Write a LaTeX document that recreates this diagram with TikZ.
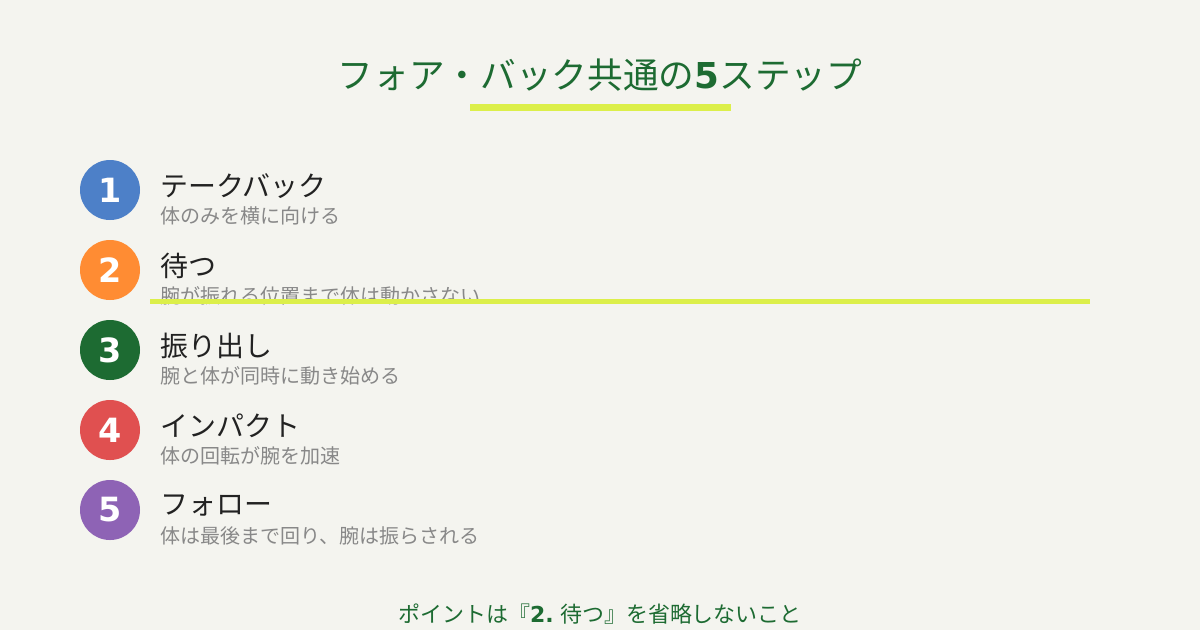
\documentclass[tikz,border=0pt]{standalone}
\usepackage{fontspec}
\setmainfont{Noto Sans CJK JP}
\newfontfamily\numfont{DejaVu Sans}
\definecolor{bgcol}{HTML}{F4F4EF}
\definecolor{titlegreen}{HTML}{1D6B32}
\definecolor{limebar}{HTML}{DCEF4A}
\definecolor{stepblue}{HTML}{4D80C8}
\definecolor{steporange}{HTML}{FF8C33}
\definecolor{stepgreen}{HTML}{1D6B32}
\definecolor{stepred}{HTML}{E05050}
\definecolor{steppurple}{HTML}{8E63B5}
\definecolor{darktext}{HTML}{222222}
\definecolor{graytext}{HTML}{888888}
\tikzset{
  num/.style={circle, minimum size=60*0.02cm, inner sep=0pt, text=white, font=\numfont\bfseries\fontsize{19pt}{19pt}\selectfont},
  steptitle/.style={anchor=west, inner sep=0pt, text=darktext, font=\fontsize{15.9pt}{16pt}\selectfont},
  stepsub/.style={anchor=west, inner sep=0pt, text=graytext, font=\fontsize{11.4pt}{12pt}\selectfont}
}
\begin{document}
\begin{tikzpicture}[x=0.02cm, y=-0.02cm]
	\useasboundingbox (0,0) rectangle (1200,630);
	\fill[bgcol] (0,0) rectangle (1200,630);

	% title and underline
	\node[inner sep=0pt, text=titlegreen, font=\fontsize{20.3pt}{21pt}\selectfont] (title) at (600,75) {フォア・バック共通の{\numfont\bfseries 5}ステップ};
	\fill[limebar] (470,104) rectangle (731,111);

	% steps
	\node[num, fill=stepblue] (C1) at (110,190) {\raisebox{-2pt}{1}};
	\node[steptitle] (T1) at (160,186) {テークバック};
	\node[stepsub] (S1) at (160,216) {体のみを横に向ける};

	\node[num, fill=steporange] (C2) at (110,270) {\raisebox{-2pt}{2}};
	\node[steptitle] (T2) at (160,266) {待つ};
	\node[stepsub] (S2) at (160,296) {腕が振れる位置まで体は動かさない};
	\fill[limebar] (150,299) rectangle (1090,304);

	\node[num, fill=stepgreen] (C3) at (110,350) {\raisebox{-2pt}{3}};
	\node[steptitle] (T3) at (160,346) {振り出し};
	\node[stepsub] (S3) at (160,376) {腕と体が同時に動き始める};

	\node[num, fill=stepred] (C4) at (110,430) {\raisebox{-2pt}{4}};
	\node[steptitle] (T4) at (160,426) {インパクト};
	\node[stepsub] (S4) at (160,456) {体の回転が腕を加速};

	\node[num, fill=steppurple] (C5) at (110,510) {\raisebox{-2pt}{5}};
	\node[steptitle] (T5) at (160,506) {フォロー};
	\node[stepsub] (S5) at (160,536) {体は最後まで回り、腕は振らされる};

	% bottom note
	\node[inner sep=0pt, text=titlegreen, font=\fontsize{12.5pt}{13pt}\selectfont] (note) at (600,614) {ポイントは『{\numfont\bfseries 2.} 待つ』を省略しないこと};
\end{tikzpicture}
\end{document}
